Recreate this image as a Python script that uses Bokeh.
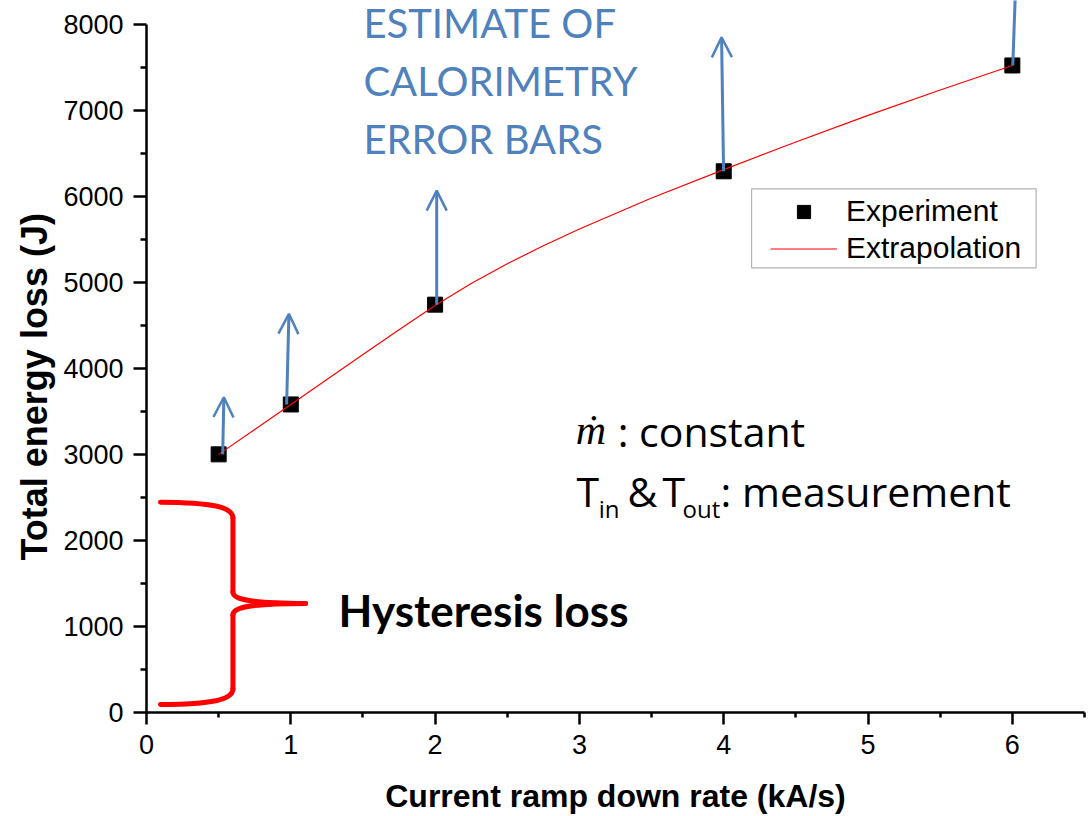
from bokeh.plotting import figure
from bokeh.models import (ColumnDataSource, Arrow, OpenHead, Label, Legend, LegendItem,
                          FixedTicker, Range1d, BoxAnnotation, Title)
from bokeh.embed import file_html
from bokeh.resources import INLINE

# ---------------- data ----------------
rate = [0.5, 1, 2, 4, 6]                      # kA/s
energy = [3000, 3580, 4740, 6290, 7520]       # J

extrap_x = [0.5, 0.75, 1.0, 1.25, 1.5, 1.75, 2.0, 2.25, 2.5, 2.75, 3.0, 3.5, 4.0, 4.5, 5.0, 5.5, 6.0]
extrap_y = [3000, 3290, 3580, 3870, 4160, 4448, 4730, 4985, 5215, 5425, 5620, 5980, 6310,
            6630, 6940, 7235, 7520]

# calorimetry error-bar arrows (base on the point, tip above)
arrow_base_x = [0.528, 0.971, 2.011, 3.999, 6.003]
arrow_tip_x = [0.536, 0.987, 2.011, 3.985, 6.028]
arrow_tip_y = [3664, 4633, 6066, 7848, 8700]

x_ticks = [0, 1, 2, 3, 4, 5, 6]
x_minor = [0.5, 1.5, 2.5, 3.5, 4.5, 5.5, 6.5]
y_ticks = [0, 1000, 2000, 3000, 4000, 5000, 6000, 7000, 8000]
y_minor = [500, 1500, 2500, 3500, 4500, 5500, 6500, 7500]

# hysteresis brace (cubic bezier pieces)
brace_x0 = [0.097, 0.599, 0.599, 1.103, 0.599, 0.599]
brace_y0 = [2444, 2260, 1400, 1268, 1136, 276]
brace_x1 = [0.599, 0.599, 1.103, 0.599, 0.599, 0.097]
brace_y1 = [2260, 1400, 1268, 1136, 276, 92]
brace_cx0 = [0.45, 0.599, 0.599, 0.75, 0.599, 0.599]
brace_cy0 = [2440, 2000, 1300, 1266, 900, 146]
brace_cx1 = [0.599, 0.599, 0.75, 0.599, 0.599, 0.45]
brace_cy1 = [2390, 1700, 1270, 1236, 500, 96]

estimate_lines = ["ESTIMATE OF", "CALORIMETRY", "ERROR BARS"]

BLUE = "#4F81BD"
RED = "#FF0000"

# ---------------- figure ----------------
p = figure(width=1090, height=816, output_backend="svg", toolbar_location=None,
           x_range=Range1d(0, 6.5), y_range=Range1d(0, 8275),
           min_border_left=146, min_border_right=6, min_border_top=0, min_border_bottom=104)
p.outline_line_color = None
p.xgrid.visible = False
p.ygrid.visible = False
p.background_fill_color = "white"
p.border_fill_color = "white"

for ax in (p.xaxis, p.yaxis):
    ax.axis_line_width = 2.5
    ax.axis_line_color = "black"
    ax.major_tick_line_width = 2.5
    ax.minor_tick_line_width = 2.5
    ax.major_tick_line_color = "black"
    ax.minor_tick_line_color = "black"
    ax.major_tick_in = 0
    ax.minor_tick_in = 0
    ax.major_label_text_font = "Liberation Sans"
    ax.major_label_text_font_size = "27px"
    ax.major_label_text_color = "black"
    ax.axis_label_text_font = "Liberation Sans"
    ax.axis_label_text_font_style = "bold"
    ax.axis_label_text_color = "black"

p.xaxis.ticker = FixedTicker(ticks=x_ticks, minor_ticks=x_minor)
p.yaxis.ticker = FixedTicker(ticks=y_ticks, minor_ticks=y_minor)
p.xaxis.bounds = (0, 6.5)
p.yaxis.bounds = (0, 8000)
p.xaxis.major_tick_out = 12
p.xaxis.minor_tick_out = 5
p.yaxis.major_tick_out = 13
p.yaxis.minor_tick_out = 6
p.xaxis.major_label_standoff = 10
p.yaxis.major_label_standoff = 10
p.xaxis.axis_label = "Current ramp down rate (kA/s)"
p.xaxis.axis_label_text_font_size = "32px"
p.xaxis.axis_label_standoff = 21

# y-axis title, centred on the 0-8000 axis line
p.add_layout(Title(text="Total energy loss (J)", align="left", offset=152,
                   text_font="Liberation Sans", text_font_style="bold",
                   text_font_size="36px", text_color="black", standoff=12), "left")

# brace
brace_src = ColumnDataSource(dict(x0=brace_x0, y0=brace_y0, x1=brace_x1, y1=brace_y1,
                                  cx0=brace_cx0, cy0=brace_cy0, cx1=brace_cx1, cy1=brace_cy1))
p.bezier(x0="x0", y0="y0", x1="x1", y1="y1", cx0="cx0", cy0="cy0", cx1="cx1", cy1="cy1",
         source=brace_src, line_color=RED, line_width=5, line_cap="round")

# data
exp_r = p.scatter(rate, energy, marker="square", size=15, fill_color="black",
                  line_color="black")
ext_r = p.line(extrap_x, extrap_y, line_color=RED, line_width=1.2)

arrow_src = ColumnDataSource(dict(xs=arrow_base_x, ys=energy, xe=arrow_tip_x, ye=arrow_tip_y))
p.add_layout(Arrow(x_start="xs", y_start="ys", x_end="xe", y_end="ye", source=arrow_src,
                   line_color=BLUE, line_width=3,
                   end=OpenHead(size=20, line_color=BLUE, line_width=2.5)))

# legend box (drawn as an annotation) + borderless legend
p.add_layout(BoxAnnotation(left=4.193, right=6.165, bottom=5168, top=6086,
                           fill_color="white", fill_alpha=1.0,
                           line_color="black", line_width=1.2, level="overlay"))
legend = Legend(items=[LegendItem(label="Experiment", renderers=[exp_r]),
                       LegendItem(label="Extrapolation", renderers=[ext_r])],
                location=(624, 447), padding=0, margin=0, spacing=3,
                glyph_width=67, glyph_height=33, label_height=33, label_standoff=9,
                border_line_alpha=0, background_fill_alpha=0,
                label_text_font="Liberation Sans", label_text_font_size="30px",
                label_text_color="black")
p.add_layout(legend, "center")

# annotation texts
for i, t in enumerate(estimate_lines):
    p.add_layout(Label(x=1.503, y=8015 - i * 672, text=t, text_font="Lato",
                       text_font_size="40px", text_color=BLUE, text_baseline="alphabetic"))

p.add_layout(Label(x=1.331, y=1196, text="Hysteresis loss", text_font="Lato",
                   text_font_style="bold", text_font_size="44px", text_color="black",
                   text_baseline="alphabetic"))

p.add_layout(Label(x=2.975, y=3278, text="ṁ", text_font="Liberation Serif",
                   text_font_style="italic", text_font_size="42px", text_color="black",
                   text_baseline="alphabetic"))
p.add_layout(Label(x=3.265, y=3274, text=": constant", text_font="Open Sans",
                   text_font_size="41px", text_color="black", text_baseline="alphabetic"))

main_y = 2577
sub_y = 2366
pieces = [("T", 2.979, main_y, "41px"), ("in", 3.134, sub_y, "24px"),
          ("&", 3.333, main_y, "41px"), ("T", 3.576, main_y, "41px"),
          ("out", 3.715, sub_y, "24px"), (": measurement", 3.978, main_y, "41px")]
for t, x, y, fs in pieces:
    p.add_layout(Label(x=x, y=y, text=t, text_font="Open Sans", text_font_size=fs,
                       text_color="black", text_baseline="alphabetic"))

open("out.html", "w").write(file_html(p, INLINE))
